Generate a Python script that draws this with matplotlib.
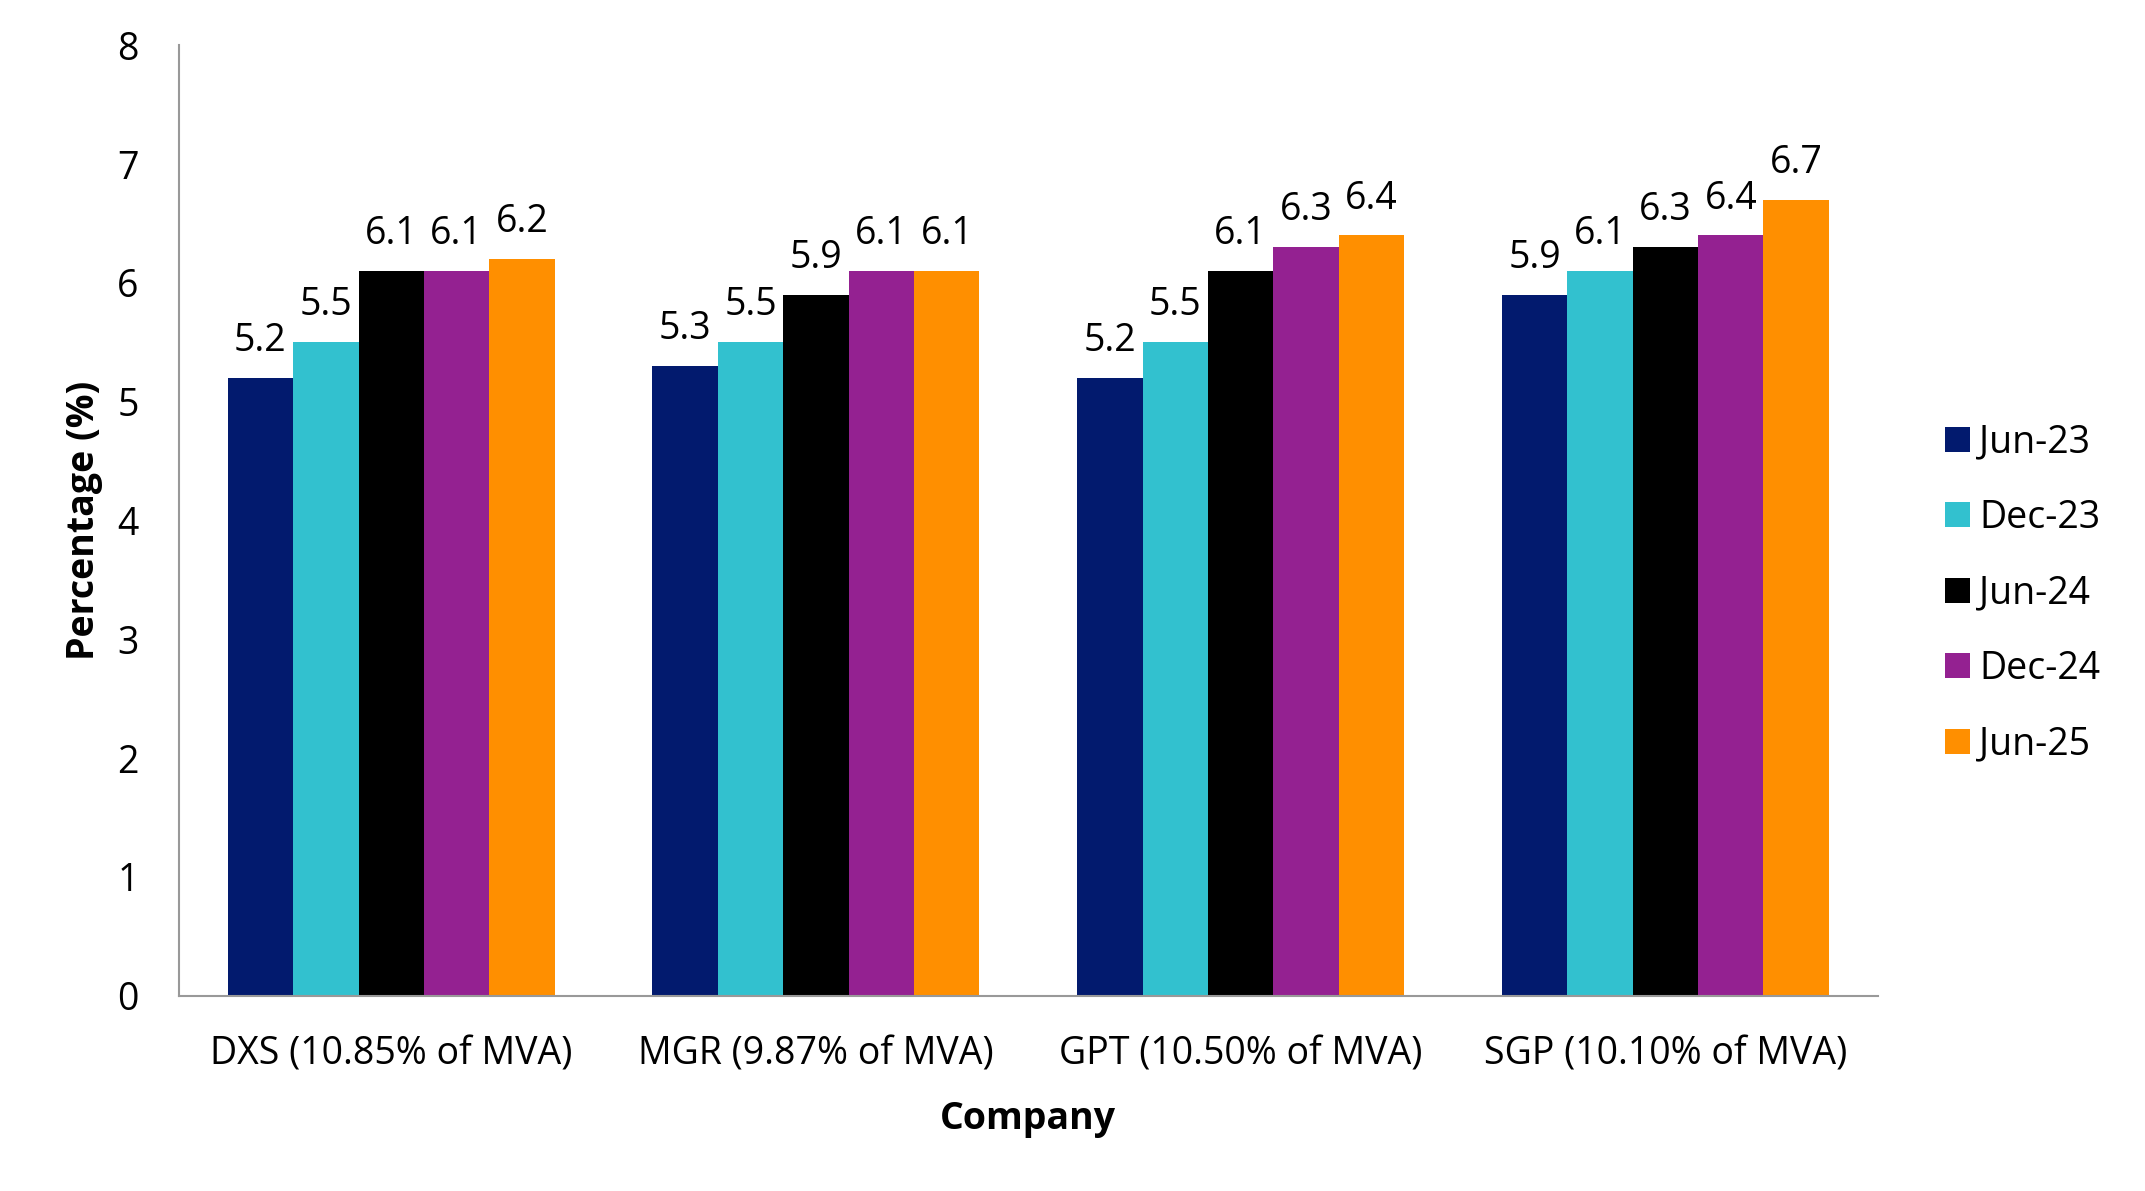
import matplotlib.pyplot as plt
import numpy as np

plt.rcParams['font.family'] = ['Open Sans', 'DejaVu Sans']

# data
companies = ['DXS (10.85% of MVA)', 'MGR (9.87% of MVA)', 'GPT (10.50% of MVA)', 'SGP (10.10% of MVA)']
periods = ['Jun-23', 'Dec-23', 'Jun-24', 'Dec-24', 'Jun-25']
jun23 = [5.2, 5.3, 5.2, 5.9]
dec23 = [5.5, 5.5, 5.5, 6.1]
jun24 = [6.1, 5.9, 6.1, 6.3]
dec24 = [6.1, 6.1, 6.3, 6.4]
jun25 = [6.2, 6.1, 6.4, 6.7]
series = [jun23, dec23, jun24, dec24, jun25]
colors = ['#021A6E', '#32C1CF', '#000000', '#942191', '#FF8F00']

fs = 27

fig = plt.figure(figsize=(21.45, 11.91), dpi=100)
ax = fig.add_axes([0.0834, 0.164, 0.792, 0.798])

x = np.arange(len(companies))
w = 0.154
for i, (vals, lab, c) in enumerate(zip(series, periods, colors)):
    pos = x + (i - 2) * w
    ax.bar(pos, vals, width=w, color=c, label=lab)
    for p, v in zip(pos, vals):
        ax.text(p, v + 0.15, f'{v:.1f}', ha='center', va='bottom', fontsize=fs)

ax.set_xlim(-0.5, 3.5)
ax.set_ylim(0, 8)
ax.set_yticks(range(0, 9))
ax.set_xticks(x)
ax.set_xticklabels(companies)
ax.tick_params(axis='both', length=0, labelsize=fs)
ax.tick_params(axis='y', pad=29)
ax.tick_params(axis='x', pad=29)

for s in ['top', 'right']:
    ax.spines[s].set_visible(False)
for s in ['left', 'bottom']:
    ax.spines[s].set_color('#999999')
    ax.spines[s].set_linewidth(1.5)

ax.set_ylabel('Percentage (%)', fontsize=fs, fontweight='bold', labelpad=10)
ax.set_xlabel('Company', fontsize=fs, fontweight='bold', labelpad=19)

ax.legend(loc='center left', bbox_to_anchor=(1.02, 0.423), frameon=False, fontsize=fs,
          handlelength=0.65, handleheight=0.65, handletextpad=0.25, labelspacing=1.0)

fig.savefig('out.png', dpi=100)
